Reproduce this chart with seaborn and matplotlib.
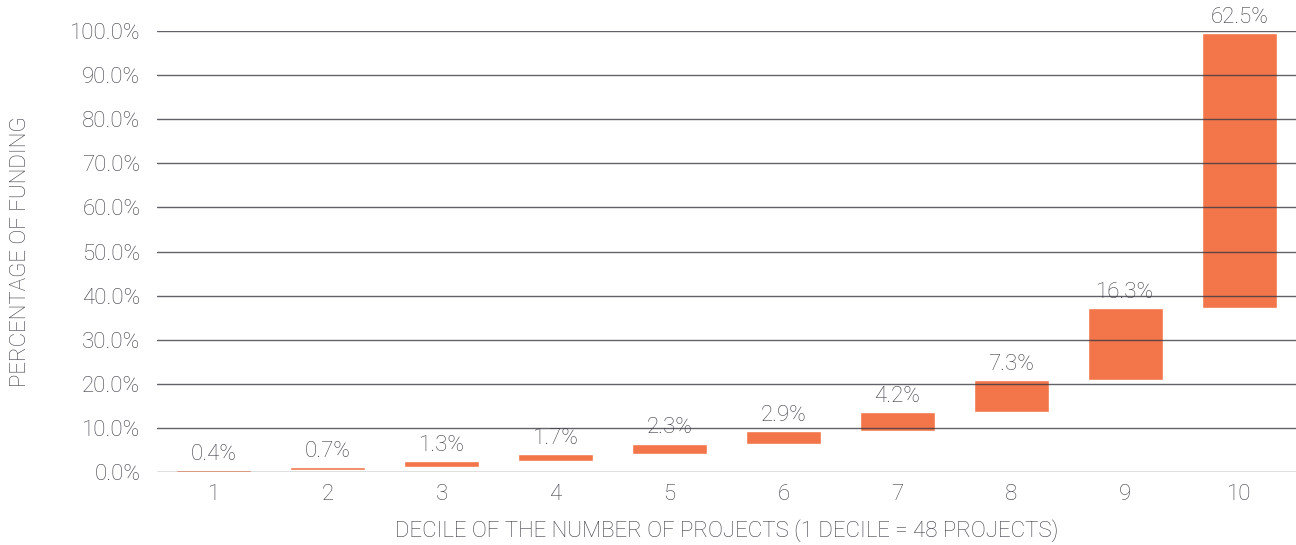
import numpy as np
import pandas as pd
import matplotlib.pyplot as plt
import seaborn as sns

deciles = ["1", "2", "3", "4", "5", "6", "7", "8", "9", "10"]
shares = [0.4, 0.7, 1.3, 1.7, 2.3, 2.9, 4.2, 7.3, 16.3, 62.5]
labels = ["0.4%", "0.7%", "1.3%", "1.7%", "2.3%", "2.9%", "4.2%", "7.3%", "16.3%", "62.5%"]
y_ticks = [0, 10, 20, 30, 40, 50, 60, 70, 80, 90, 100]

BAR_COLOR = "#F2764A"
TEXT_COLOR = "#3c3c46"
FS = 16

sns.set_theme(style="white")
plt.rcParams["font.family"] = ["Roboto", "DejaVu Sans"]

df = pd.DataFrame({"decile": deciles, "share": shares})
# waterfall: each bar starts where the previous one ended
df["bottom"] = df["share"].cumsum() - df["share"]

fig = plt.figure(figsize=(12.96, 5.45), dpi=100)
ax = fig.add_axes([0.1211, 0.134, 0.879, 0.809])

sns.barplot(data=df, x="decile", y="share", bottom=df["bottom"].values,
            color=BAR_COLOR, saturation=1, width=0.66, ax=ax, zorder=1)

# grid lines on top of the bars, like the original
for t in y_ticks:
    ax.axhline(t, color="#3a3a44", lw=1.0, alpha=0.8, zorder=2)

for i, (b, s, lab) in enumerate(zip(df["bottom"], df["share"], labels)):
    ax.text(i, b + s + 1.2, lab, ha="center", va="bottom", fontsize=FS,
            color=TEXT_COLOR, fontweight="light", clip_on=False, zorder=3)

ax.set_xlim(-0.5, 9.5)
ax.set_ylim(0, 100)
ax.set_yticks(y_ticks)
ax.set_yticklabels([f"{t:.1f}%" for t in y_ticks])
ax.tick_params(axis="both", length=0, labelsize=FS, labelcolor=TEXT_COLOR)
ax.tick_params(axis="y", pad=12)
ax.tick_params(axis="x", pad=9)
for lab in ax.get_xticklabels() + ax.get_yticklabels():
    lab.set_fontweight("light")

ax.set_xlabel("DECILE OF THE NUMBER OF PROJECTS (1 DECILE = 48 PROJECTS)",
              fontsize=FS, color=TEXT_COLOR, fontweight="light", labelpad=10)
ax.set_ylabel("PERCENTAGE OF FUNDING", fontsize=FS, color=TEXT_COLOR,
              fontweight="light", labelpad=28)

sns.despine(ax=ax, left=True, bottom=True)
ax.grid(False)

fig.savefig("out.png", dpi=100)
plt.close(fig)
